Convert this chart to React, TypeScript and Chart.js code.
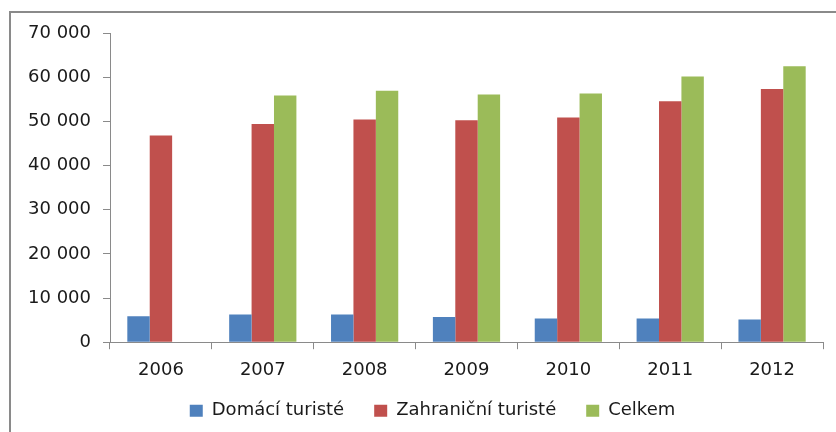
import React, { useEffect, useRef } from "react";
import { Chart, registerables } from "chart.js";

Chart.register(...registerables);

const years = ["2006", "2007", "2008", "2009", "2010", "2011", "2012"];
const domaciTuriste = [5900, 6270, 6270, 5680, 5360, 5360, 5130];
const zahranicniTuriste = [46800, 49400, 50400, 50250, 50850, 54550, 57350];
const celkem: (number | null)[] = [null, 55850, 56900, 56050, 56300, 60150, 62500];
const yMin = 0;
const yMax = 70000;
const yStep = 10000;

const fmt = (v: number) => String(v).replace(/\B(?=(\d{3})+(?!\d))/g, " ");

const frame = {
  id: "frame",
  afterLayout(chart: any) {
    // let tick labels extend beyond their (narrowed) scale boxes
    if (chart.scales.y) chart.scales.y.left = 0;
    if (chart.scales.x) chart.scales.x.bottom = chart.height;
  },
  beforeDraw(chart: any) {
    const ctx = chart.ctx;
    ctx.save();
    ctx.strokeStyle = "#8a8a8a";
    ctx.lineWidth = 2;
    ctx.beginPath();
    ctx.moveTo(10, 440);
    ctx.lineTo(10, 12);
    ctx.lineTo(840, 12);
    ctx.stroke();
    ctx.restore();
  },
};

export default function App() {
  const ref = useRef<HTMLCanvasElement>(null);
  useEffect(() => {
    if (!ref.current) return;
    const font = { family: "'DejaVu Sans'", size: 18 };
    const chart = new Chart(ref.current, {
      type: "bar",
      data: {
        labels: years,
        datasets: [
          { label: "Domácí turisté", data: domaciTuriste, backgroundColor: "#4F81BD" },
          { label: "Zahraniční turisté", data: zahranicniTuriste, backgroundColor: "#C0504D" },
          { label: "Celkem", data: celkem, backgroundColor: "#9BBB59" },
        ],
      },
      options: {
        animation: false,
        responsive: false,
        maintainAspectRatio: false,
        layout: { padding: { top: 33, right: 13, left: 42, bottom: 2.2 } },
        datasets: { bar: { categoryPercentage: 0.66, barPercentage: 1.0 } },
        plugins: {
          tooltip: { enabled: false },
          legend: {
            position: "bottom",
            labels: {
              font,
              color: "#1a1a1a",
              boxWidth: 13,
              boxHeight: 12,
              padding: 30,
            },
          },
        },
        scales: {
          x: {
            afterFit: (s: any) => { s.height = 29.6; },
            grid: { display: true, drawOnChartArea: false, drawTicks: true, tickLength: 7, color: "#8a8a8a", offset: true },
            border: { display: true, color: "#8a8a8a", width: 1 },
            ticks: { font, color: "#1a1a1a", padding: 10 },
          },
          y: {
            min: yMin,
            max: yMax,
            afterFit: (s: any) => { s.width = 68; },
            grid: { display: true, drawOnChartArea: false, drawTicks: true, tickLength: 7, color: "#8a8a8a" },
            border: { display: true, color: "#8a8a8a", width: 1 },
            ticks: { stepSize: yStep, font, color: "#1a1a1a", padding: 12, callback: (v: any) => fmt(Number(v)) },
          },
        },
      } as any,
      plugins: [frame],
    });
    return () => chart.destroy();
  }, []);
  return (
    <div style={{ position: "fixed", left: 0, top: 0, width: 836, height: 432, background: "#fff" }}>
      <canvas ref={ref} width={836} height={432} style={{ width: 836, height: 432 }} />
    </div>
  );
}
